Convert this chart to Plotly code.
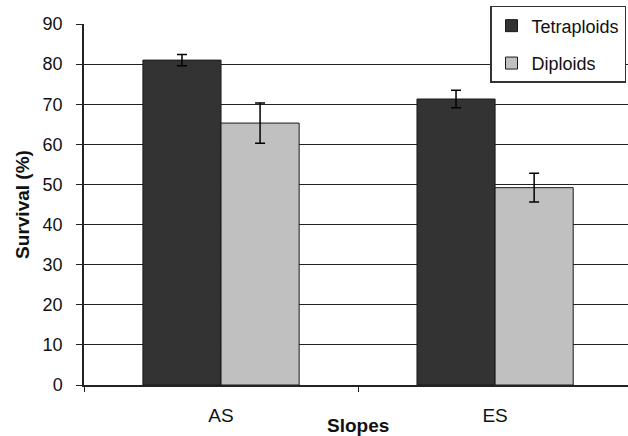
import plotly.graph_objects as go

categories = ["AS", "ES"]
tetraploids = [81.0, 71.3]
tetraploids_err = [1.4, 2.2]
diploids = [65.3, 49.2]
diploids_err = [5.0, 3.6]
y_ticks = [0, 10, 20, 30, 40, 50, 60, 70, 80, 90]

font_family = "Liberation Sans, Arial, sans-serif"

fig = go.Figure()
fig.add_trace(go.Bar(
    name="Tetraploids", x=categories, y=tetraploids,
    marker=dict(color="#333333", line=dict(color="#1a1a1a", width=1)),
    error_y=dict(type="data", array=tetraploids_err, color="#000000", thickness=1.5, width=5),
    legendgroup="t",
))
fig.add_trace(go.Bar(
    name="Diploids", x=categories, y=diploids,
    marker=dict(color="#c0c0c0", line=dict(color="#1a1a1a", width=1)),
    error_y=dict(type="data", array=diploids_err, color="#000000", thickness=1.5, width=5),
    legendgroup="d",
))

fig.update_layout(
    width=628, height=436,
    margin=dict(l=84, r=0, t=24, b=51),
    paper_bgcolor="white", plot_bgcolor="white",
    barmode="group", bargap=0.43, bargroupgap=0,
    font=dict(family=font_family, size=18, color="#111111"),
    showlegend=True,
    legend=dict(
        x=(626 - 84) / 544, y=1.05, xanchor="right", yanchor="top",
        bgcolor="white", bordercolor="#333333", borderwidth=1.5,
        font=dict(size=18, family=font_family, color="#111111"),
        tracegroupgap=11,
        itemwidth=30,
    ),
    xaxis=dict(
        range=[-0.5, 1.485],
        showline=True, linecolor="#222222", linewidth=1.5,
        ticks="outside", tickson="boundaries", ticklen=5, tickcolor="#222222",
        showgrid=False,
        tickfont=dict(size=19),
        ticklabelstandoff=12,
    ),
    yaxis=dict(
        range=[0, 90], tickvals=y_ticks,
        showline=True, linecolor="#222222", linewidth=1.5,
        ticks="outside", ticklen=6, tickcolor="#222222",
        showgrid=True, gridcolor="#222222", gridwidth=1,
        zeroline=False,
        tickfont=dict(size=18),
        ticklabelstandoff=10,
        title=dict(text="<b>Survival (%)</b>", font=dict(size=19), standoff=8),
    ),
    annotations=[dict(
        text="<b>Slopes</b>", xref="paper", yref="paper",
        x=(358 - 84) / 544, y=0, xanchor="center", yanchor="middle",
        yshift=-40, showarrow=False, font=dict(size=19),
    )],
)

fig.write_html("out.html")
